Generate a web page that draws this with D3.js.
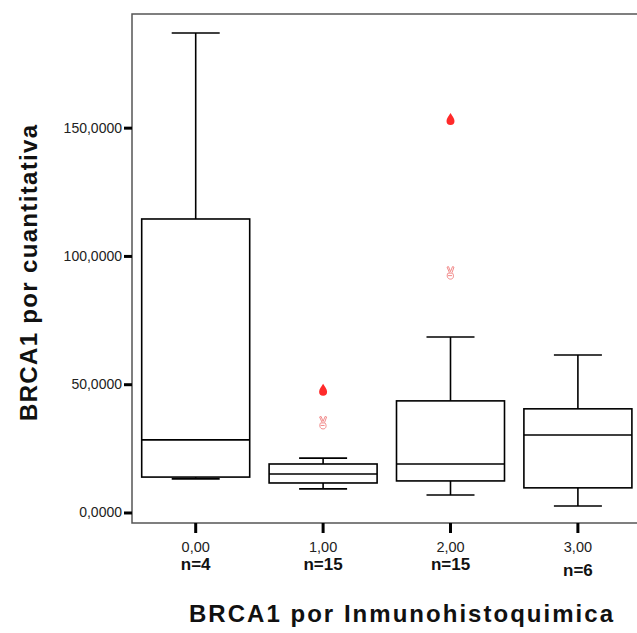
<!DOCTYPE html>
<html>
<head>
<meta charset="utf-8">
<script src="https://cdn.jsdelivr.net/npm/d3@7/dist/d3.min.js"></script>
<style>
  html, body { margin: 0; padding: 0; background: #fff; }
  svg { display: block; font-family: "Liberation Sans", Arial, sans-serif; }
</style>
</head>
<body>
<svg id="chart" width="637" height="633"></svg>
<script>
// BRCA1 by immunohistochemistry group: box-plot summaries
const categories = ["0,00", "1,00", "2,00", "3,00"];
const counts = ["n=4", "n=15", "n=15", "n=6"];
const whiskerLow = [13.1, 9.2, 6.8, 2.5];
const q1 = [13.8, 11.5, 12.3, 9.6];
const median = [28.3, 15.0, 18.9, 30.2];
const q3 = [114.4, 18.9, 43.5, 40.4];
const whiskerHigh = [186.9, 21.2, 68.4, 61.4];
// outliers (circle) and extremes (star) per group
const outliers = [[], [47.8], [153.4], []];
const extremes = [[], [34.9], [93.3], []];
const yTicks = [0, 50, 100, 150];

const svg = d3.select("#chart");
const frame = { left: 132, top: 14, bottom: 523, right: 645 };

const x = d3.scaleBand().domain(categories).range([frame.left, frame.left + 4 * 127.4]);
const y = d3.scaleLinear().domain([-4.1, 194.3]).range([frame.bottom, frame.top]);

const fmtY = v => d3.format(".4f")(v).replace(".", ",");

// plot frame
svg.append("rect")
  .attr("x", frame.left).attr("y", frame.top)
  .attr("width", frame.right - frame.left).attr("height", frame.bottom - frame.top)
  .attr("fill", "none").attr("stroke", "#555").attr("stroke-width", 1.5);

// y axis
const yAxis = svg.append("g").attr("transform", `translate(${frame.left},0)`)
  .call(d3.axisLeft(y).tickValues(yTicks).tickFormat(fmtY).tickSize(8).tickPadding(2));
yAxis.select(".domain").remove();
yAxis.selectAll(".tick line").attr("stroke", "#000").attr("stroke-width", 3);
yAxis.selectAll(".tick text").attr("font-size", 14).attr("fill", "#222")
  .attr("font-family", "Liberation Sans, Arial, sans-serif");

// x axis
const xAxis = svg.append("g").attr("transform", `translate(0,${frame.bottom})`)
  .call(d3.axisBottom(x).tickSize(10).tickPadding(9));
xAxis.select(".domain").remove();
xAxis.selectAll(".tick line").attr("stroke", "#000").attr("stroke-width", 3);
xAxis.selectAll(".tick text").attr("font-size", 14.5).attr("fill", "#222")
  .attr("font-family", "Liberation Sans, Arial, sans-serif");

// group counts under the category labels
svg.append("g").selectAll("text").data(categories).join("text")
  .attr("x", d => x(d) + x.bandwidth() / 2)
  .attr("y", (d, i) => i === 3 ? 576 : 570)
  .attr("text-anchor", "middle")
  .attr("font-size", 17).attr("font-weight", "bold").attr("fill", "#111")
  .text((d, i) => counts[i]);

// boxes
const boxW = 108, capW = 48;
const groups = svg.append("g").selectAll("g").data(categories).join("g")
  .attr("transform", d => `translate(${x(d) + x.bandwidth() / 2},0)`);

groups.append("line")
  .attr("y1", (d, i) => y(whiskerHigh[i])).attr("y2", (d, i) => y(q3[i]))
  .attr("stroke", "#000").attr("stroke-width", 1.6);
groups.append("line")
  .attr("y1", (d, i) => y(q1[i])).attr("y2", (d, i) => y(whiskerLow[i]))
  .attr("stroke", "#000").attr("stroke-width", 1.6);
groups.append("line")
  .attr("x1", -capW / 2).attr("x2", capW / 2)
  .attr("y1", (d, i) => y(whiskerHigh[i])).attr("y2", (d, i) => y(whiskerHigh[i]))
  .attr("stroke", "#000").attr("stroke-width", 1.6);
groups.append("line")
  .attr("x1", -capW / 2).attr("x2", capW / 2)
  .attr("y1", (d, i) => y(whiskerLow[i])).attr("y2", (d, i) => y(whiskerLow[i]))
  .attr("stroke", "#000").attr("stroke-width", 1.6);
groups.append("rect")
  .attr("x", -boxW / 2).attr("width", boxW)
  .attr("y", (d, i) => y(q3[i])).attr("height", (d, i) => y(q1[i]) - y(q3[i]))
  .attr("fill", "#fff").attr("stroke", "#000").attr("stroke-width", 1.6);
groups.append("line")
  .attr("x1", -boxW / 2).attr("x2", boxW / 2)
  .attr("y1", (d, i) => y(median[i])).attr("y2", (d, i) => y(median[i]))
  .attr("stroke", "#000").attr("stroke-width", 1.6);

// outlier markers (drop) and extreme markers (victory hand outline)
const drop = "M0,-6 C1.5,-3 4,-1 4,2 A4,4 0 1 1 -4,2 C-4,-1 -1.5,-3 0,-6 Z";
const hand = "M-1,-0.5 L-3.5,-6 L-2,-6.5 L0,-1.5 L2,-6.5 L3.5,-6 L1.5,-0.5 " +
             "M-2.5,0 C-4,2 -3.5,6 0,6 C3.5,6 3.5,2 2,0 Z M-2.5,2.5 L1.5,2.5";
groups.each(function (d, i) {
  const g = d3.select(this);
  g.selectAll("path.out").data(outliers[i]).join("path")
    .attr("class", "out")
    .attr("d", drop)
    .attr("transform", v => `translate(0,${y(v)})`)
    .attr("fill", "#ff2a2a");
  g.selectAll("path.ext").data(extremes[i]).join("path")
    .attr("class", "ext")
    .attr("d", hand)
    .attr("transform", v => `translate(0,${y(v)})`)
    .attr("fill", "none").attr("stroke", "#f28a8a").attr("stroke-width", 1);
});

// axis titles
svg.append("text")
  .attr("transform", "translate(37,273) rotate(-90)")
  .attr("text-anchor", "middle")
  .attr("font-size", 24).attr("font-weight", "bold").attr("fill", "#111")
  .attr("textLength", 296).attr("lengthAdjust", "spacing")
  .text("BRCA1 por cuantitativa");

svg.append("text")
  .attr("x", 401).attr("y", 622)
  .attr("text-anchor", "middle")
  .attr("font-size", 24).attr("font-weight", "bold").attr("fill", "#111")
  .attr("textLength", 424).attr("lengthAdjust", "spacing")
  .text("BRCA1 por Inmunohistoquimica");
</script>
</body>
</html>
